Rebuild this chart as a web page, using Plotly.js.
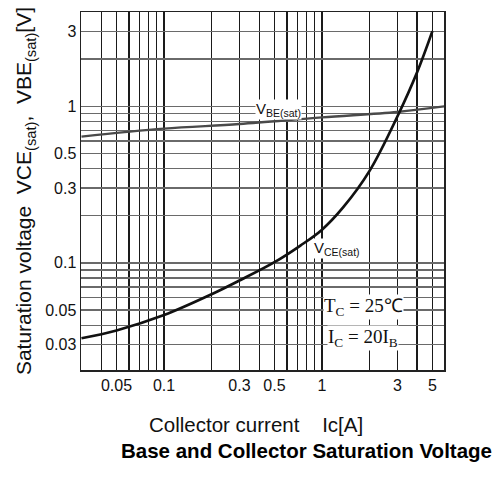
<!DOCTYPE html>
<html>
<head>
<meta charset="utf-8">
<script src="https://cdn.plot.ly/plotly-3.0.1.min.js"></script>
<style>html,body{margin:0;padding:0;background:#fff;}#chart{width:497px;height:479px;}</style>
</head>
<body>
<div id="chart"></div>
<script>
// Collector current Ic [A]
const vceCurrent = [0.03, 0.05, 0.1, 0.2, 0.3, 0.5, 0.73, 1, 1.36, 2, 3, 4, 5];
// VCE(sat) [V]
const vceSat = [0.033, 0.037, 0.0464, 0.063, 0.0771, 0.101, 0.129, 0.163, 0.226, 0.387, 0.86, 1.65, 3.02];
const vbeCurrent = [0.03, 0.1, 0.3, 1, 3, 6];
// VBE(sat) [V]
const vbeSat = [0.64, 0.72, 0.77, 0.85, 0.92, 1.0];

const xGrid = [0.04,0.05,0.06,0.07,0.08,0.09,0.1,0.2,0.3,0.4,0.5,0.6,0.7,0.8,0.9,1,2,3,4,5];
const xLabeled = [0.05, 0.1, 0.3, 0.5, 1, 3, 5];
const xTickText = ["0.05","0.1","0.3","0.5","1","3","5"];
const yGrid = [0.03,0.04,0.05,0.06,0.07,0.08,0.09,0.1,0.2,0.3,0.4,0.5,0.6,0.7,0.8,0.9,1,2,3];
const yLabeled = [0.03, 0.05, 0.1, 0.3, 0.5, 1, 3];
const yTickText = ["0.03","0.05","0.1","0.3","0.5","1","3"];

const xText = xGrid.map(v => { const i = xLabeled.indexOf(v); return i >= 0 ? xTickText[i] : ""; });
const yText = yGrid.map(v => { const i = yLabeled.indexOf(v); return i >= 0 ? yTickText[i] : ""; });

const traces = [
  {x: vbeCurrent, y: vbeSat, mode: 'lines', line: {color: '#4a4a4a', width: 2.4, shape: 'spline'}, hoverinfo: 'skip'},
  {x: vceCurrent, y: vceSat, mode: 'lines', line: {color: '#111', width: 2.7, shape: 'spline'}, hoverinfo: 'skip'}
];

const sans = 'Liberation Sans, Arial, sans-serif';
const serif = 'Liberation Serif, Times New Roman, serif';
const sp = '\u00A0';

const layout = {
  width: 497, height: 479,
  margin: {l: 81, r: 53, t: 12, b: 109},
  paper_bgcolor: '#fff', plot_bgcolor: '#fff',
  showlegend: false,
  xaxis: {
    type: 'log', range: [Math.log10(0.0298), Math.log10(5.92)],
    tickmode: 'array', tickvals: xGrid, ticktext: xText,
    showgrid: true, gridcolor: '#1a1a1a', gridwidth: 1.3,
    showline: true, linecolor: '#222', linewidth: 1.5, mirror: true,
    ticks: '', zeroline: false,
    tickfont: {family: sans, size: 16, color: '#111'}
  },
  yaxis: {
    type: 'log', range: [Math.log10(0.0207), Math.log10(4.0)],
    tickmode: 'array', tickvals: yGrid, ticktext: yText,
    showgrid: true, gridcolor: '#6a6a6a', gridwidth: 1.4,
    showline: true, linecolor: '#222', linewidth: 1.5, mirror: true,
    ticks: '', zeroline: false,
    tickfont: {family: sans, size: 16, color: '#111'}
  },
  annotations: [
    {xref: 'paper', yref: 'paper', x: 0.543, y: 0.729, xanchor: 'center', yanchor: 'middle',
     text: 'V<sub>BE(sat)</sub>', showarrow: false,
     font: {family: sans, size: 15, color: '#111'}, bgcolor: '#fff', borderpad: 0},
    {xref: 'paper', yref: 'paper', x: 0.705, y: 0.338, xanchor: 'center', yanchor: 'middle',
     text: 'V<sub>CE(sat)</sub>', showarrow: false,
     font: {family: sans, size: 15, color: '#111'}, bgcolor: '#fff', borderpad: 0},
    {xref: 'paper', yref: 'paper', x: 0.777, y: 0.175, xanchor: 'center', yanchor: 'middle',
     text: 'T<sub>C</sub> = 25℃', showarrow: false,
     font: {family: serif, size: 19, color: '#111'}, bgcolor: '#fff', borderpad: 0},
    {xref: 'paper', yref: 'paper', x: 0.777, y: 0.089, xanchor: 'center', yanchor: 'middle',
     text: 'I<sub>C</sub> = 20I<sub>B</sub>', showarrow: false,
     font: {family: serif, size: 19, color: '#111'}, bgcolor: '#fff', borderpad: 0},
    {xref: 'paper', yref: 'paper', x: -0.154, y: 0.5, textangle: -90, xanchor: 'center', yanchor: 'middle',
     text: 'Saturation voltage' + sp + sp + 'VCE<sub>(sat)</sub>,' + sp + sp + 'VBE<sub>(sat)</sub>[V]', showarrow: false,
     font: {family: sans, size: 21, color: '#111'}},
    {xref: 'paper', yref: 'paper', x: 0.481, y: -0.151, xanchor: 'center', yanchor: 'middle',
     text: 'Collector current' + sp + sp + sp + sp + 'Ic[A]', showarrow: false,
     font: {family: sans, size: 20.5, color: '#111'}},
    {xref: 'paper', yref: 'paper', x: 0.62, y: -0.226, xanchor: 'center', yanchor: 'middle',
     text: '<b>Base and Collector Saturation Voltage</b>', showarrow: false,
     font: {family: sans, size: 20.5, color: '#000'}}
  ]
};

Plotly.newPlot('chart', traces, layout, {staticPlot: true, displayModeBar: false});
</script>
</body>
</html>
